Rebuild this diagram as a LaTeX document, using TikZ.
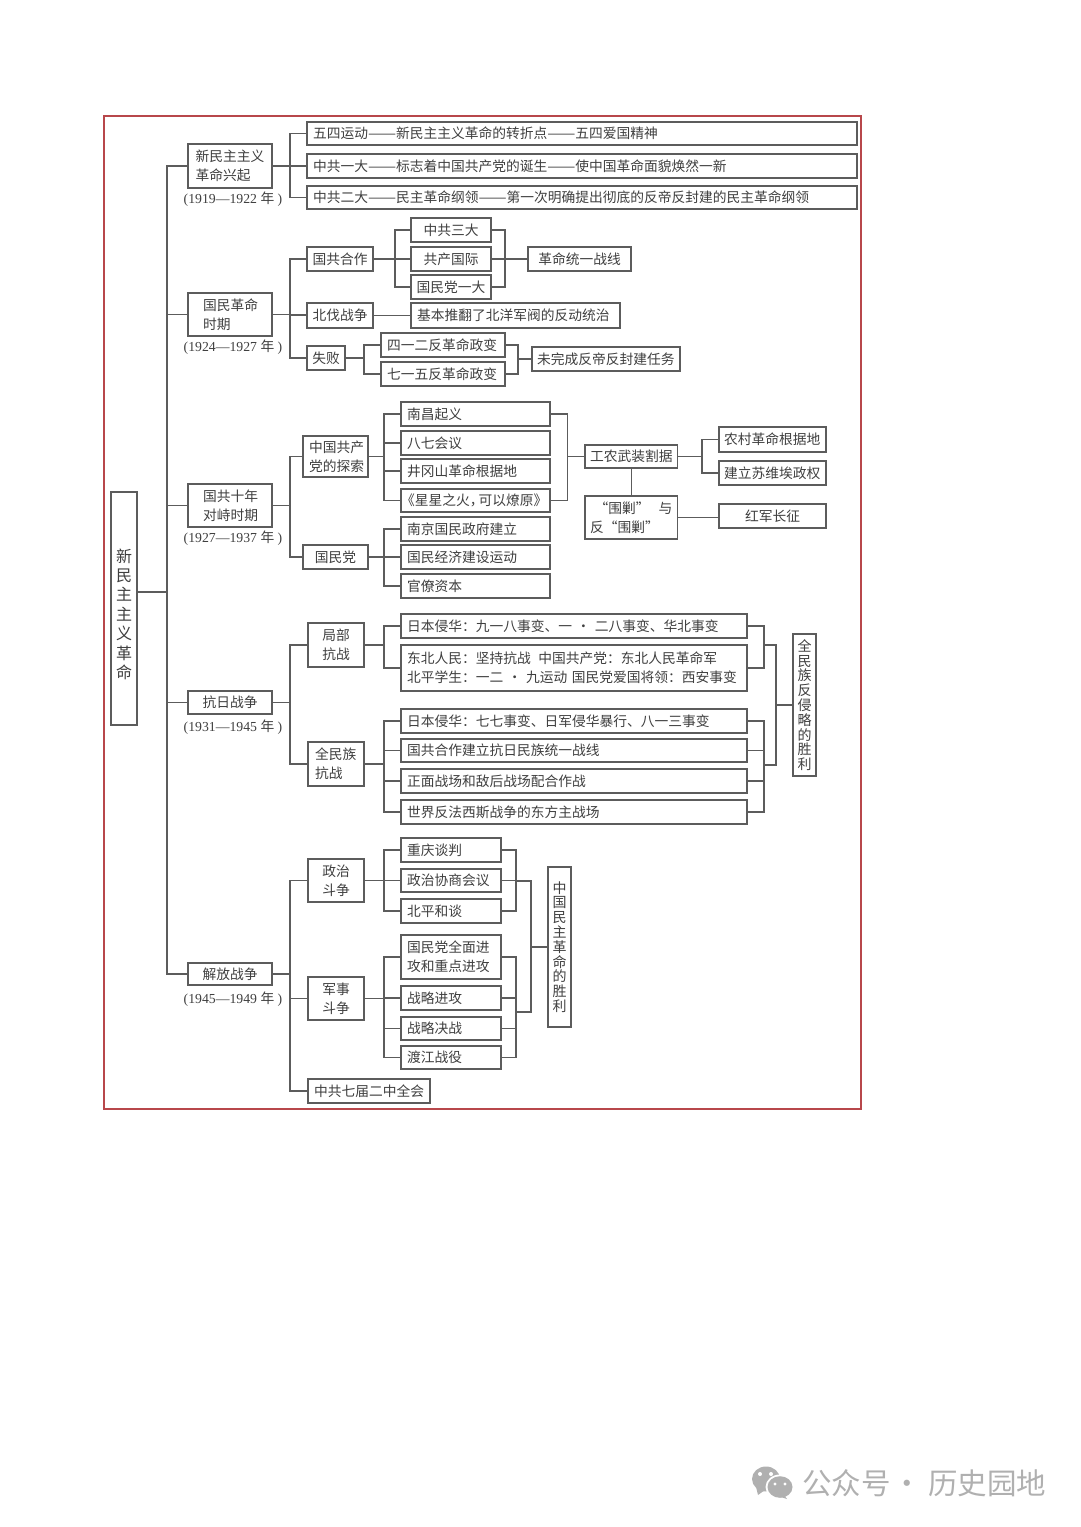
\documentclass[tikz,border=0pt]{standalone}
\usepackage{graphicx}
\usepackage{fontspec}
\setmainfont{Noto Sans CJK SC}
\newfontfamily\ser{Liberation Serif}
\definecolor{ln}{HTML}{5C5C5C}
\definecolor{tx}{HTML}{3F3F3F}
\definecolor{fr}{HTML}{B8474B}
\definecolor{wm}{HTML}{B0B0B0}
\tikzset{
  boxs/.style={draw=ln,line width=1.1pt,fill=white,inner ysep=0pt,outer sep=0pt,text=tx,align=left,
    font=\fontsize{13.75}{19}\selectfont},
  conn/.style={draw=ln,line width=1.1pt,line cap=rect},
  yearlab/.style={text=tx,inner sep=0pt,font=\fontsize{13.75}{16}\selectfont},
  vbox/.style={align=center,font=\fontsize{14}{14.8}\selectfont},
}
\newcommand\dd{\scalebox{1.22}[1]{——}}
% [extra]{name}{x1}{y1}{x2}{y2}{pad}{text}
\newcommand\bx[8][]{%
  \pgfmathsetmacro\mycx{(#3+#5)/2}\pgfmathsetmacro\mycy{(#4+#6)/2}%
  \pgfmathsetmacro\myw{#5-#3}\pgfmathsetmacro\myh{#6-#4}\pgfmathsetmacro\mytw{#5-#3-2*#7}%
  \node[boxs,minimum width=\myw pt,minimum height=\myh pt,inner xsep=#7pt,text width=\mytw pt,#1] (#2) at (\mycx,\mycy) {#8};}
% {bus x}{anchor}{first}{last}{middle nodes}
\newcommand\busline[5]{%
  \coordinate (bb) at (#1,0);
  \draw[conn] (#3.#2) -- (#3.#2 -| bb) -- (#4.#2 -| bb) -- (#4.#2);
  \foreach \c in {#5} {\draw[conn] (\c.#2) -- (\c.#2 -| bb);}}
\newcommand\yr[4]{\node[yearlab] (#1) at (233,#2) {{\ser (#3—#4 }年{\ser\ )}};}
\begin{document}
\begin{tikzpicture}[x=1pt,y=-1pt]
\useasboundingbox (0,0) rectangle (1080,1527);
\node[draw=fr,line width=1.5pt,minimum width=757pt,minimum height=993pt,inner sep=0pt] (frame) at (482.5,612.5) {};

% root
\bx[vbox,font=\fontsize{16}{19.4}\selectfont]{root}{111}{492}{137}{725}{4}{\raisebox{-10pt}[0pt][0pt]{\parbox[c]{18pt}{\centering 新\\民\\主\\主\\义\\革\\命}}}
% level 1
\bx{a1}{188}{144}{272}{188}{7.5}{新民主主义\\革命兴起}
\bx{a2}{188}{293}{272}{336}{15}{国民革命\\时期}
\bx{a3}{188}{484}{272}{527}{15}{国共十年\\对峙时期}
\bx[align=center]{a4}{188}{691}{272}{714}{5}{抗日战争}
\bx[align=center]{a5}{188}{963}{272}{985}{5}{解放战争}
\yr{y1}{199}{1919}{1922}
\yr{y2}{347}{1924}{1927}
\yr{y3}{538}{1927}{1937}
\yr{y4}{727}{1931}{1945}
\yr{y5}{999}{1945}{1949}
\coordinate (rootout) at (137,592);
\coordinate (trunk) at (167,592);
\draw[conn] (rootout) -- (trunk);
\draw[conn] (a1.west) -- (a1.west -| trunk) -- (a5.west -| trunk) -- (a5.west);
\foreach \c in {a2,a3,a4} {\draw[conn] (\c.west) -- (\c.west -| trunk);}

% section 1
\bx{b1}{307}{122}{857}{145}{6}{五四运动\dd 新民主主义革命的转折点\dd 五四爱国精神}
\bx{b2}{307}{154}{857}{178}{6}{中共一大\dd 标志着中国共产党的诞生\dd 使中国革命面貌焕然一新}
\bx{b3}{307}{186}{857}{209}{6}{中共二大\dd 民主革命纲领\dd 第一次明确提出彻底的反帝反封建的民主革命纲领}
\busline{290}{west}{b1}{b3}{b2}
\draw[conn] (a1.east) -- (b2.west);

% section 2
\bx[align=center]{c1}{307}{247}{373}{271}{3}{国共合作}
\bx[align=center]{c2}{307}{303}{373}{328}{3}{北伐战争}
\bx[align=center]{c3}{307}{346}{345}{370}{3}{失败}
\busline{290}{west}{c1}{c3}{c2}
\draw[conn] (a2.east) -- (a2.east -| c2.west);
\bx[align=center]{d1}{411}{218}{491}{242}{5}{中共三大}
\bx[align=center]{d2}{411}{247}{491}{271}{5}{共产国际}
\bx[align=center]{d3}{411}{275}{491}{299}{3}{国民党一大}
\bx[align=center]{d4}{528}{247}{631}{271}{5}{革命统一战线}
\busline{395}{west}{d1}{d3}{d2}
\draw[conn] (c1.east) -- (d2.west);
\busline{505}{east}{d1}{d3}{d2}
\draw[conn] (d2.east) -- (d4.west);
\bx{d5}{411}{303}{620}{328}{6}{基本推翻了北洋军阀的反动统治}
\draw[conn] (c2.east) -- (d5.west);
\bx{d6}{381}{333}{505}{357}{6}{四一二反革命政变}
\bx{d7}{381}{362}{505}{386}{6}{七一五反革命政变}
\busline{364}{west}{d6}{d7}{}
\draw[conn] (c3.east) -- (c3.east -| bb);
\busline{518}{east}{d6}{d7}{}
\bx{d8}{532}{347}{680}{371}{5}{未完成反帝反封建任务}
\draw[conn] (d8.west) -- (d8.west -| bb);

% section 3
\bx{e1}{303}{436}{368}{477}{6}{中国共产\\党的探索}
\bx[align=center]{e2}{303}{545}{368}{569}{3}{国民党}
\busline{290}{west}{e1}{e2}{}
\draw[conn] (a3.east) -- (a3.east -| bb);
\bx{f1}{401}{402}{550}{426}{6}{南昌起义}
\bx{f2}{401}{431}{550}{455}{6}{八七会议}
\bx{f3}{401}{459}{550}{483}{6}{井冈山革命根据地}
\bx{f4}{401}{489}{550}{512}{6}{\kern-6pt《星星之火，\kern-5pt可以燎原》}
\bx{f5}{401}{517}{550}{541}{6}{南京国民政府建立}
\bx{f6}{401}{545}{550}{569}{6}{国民经济建设运动}
\bx{f7}{401}{574}{550}{598}{6}{官僚资本}
\busline{384}{west}{f1}{f4}{f2,f3}
\draw[conn] (e1.east) -- (e1.east -| bb);
\busline{384}{west}{f5}{f7}{f6}
\draw[conn] (e2.east) -- (f6.west);
\bx[align=center]{g1}{585}{445}{677.5}{468}{3}{工农武装割据}
\bx{g2}{585}{496}{677.5}{539}{5}{\ “围剿”\ \ 与\\反“围剿”}
\busline{567.5}{east}{f1}{f4}{}
\draw[conn] (g1.west) -- (g1.west -| bb);
\draw[conn] (g1.south) -- (g2.north);
\bx{h1}{719}{427}{826}{452}{5}{农村革命根据地}
\bx{h2}{719}{461}{826}{485}{5}{建立苏维埃政权}
\bx[align=center]{h3}{719}{504}{826}{528}{5}{红军长征}
\busline{702}{west}{h1}{h2}{}
\draw[conn] (g1.east) -- (g1.east -| bb);
\draw[conn] (g2.east) -- (g2.east -| h3.west);

% section 4
\bx[align=center]{i1}{308}{623}{364}{667}{3}{局部\\抗战}
\bx{i2}{308}{742}{364}{786}{7}{全民族\\抗战}
\busline{290}{west}{i1}{i2}{}
\draw[conn] (a4.east) -- (a4.east -| bb);
\bx{j1}{401}{614}{747}{638}{6}{日本侵华：九一八事变、一 • 二八事变、华北事变}
\bx{j2}{401}{645}{747}{691}{6}{\mbox{东北人民：坚持抗战\ \kern3pt 中国共产党：东北人民革命军}\\\mbox{北平学生：一二 • 九运动\ 国民党爱国将领：西安事变}}
\bx{j3}{401}{709}{747}{733}{6}{日本侵华：七七事变、日军侵华暴行、八一三事变}
\bx{j4}{401}{739}{747}{762}{6}{国共合作建立抗日民族统一战线}
\bx{j5}{401}{769}{747}{793}{6}{正面战场和敌后战场配合作战}
\bx{j6}{401}{800}{747}{824}{6}{世界反法西斯战争的东方主战场}
\busline{384}{west}{j1}{j2}{}
\draw[conn] (i1.east) -- (i1.east -| bb);
\busline{384}{west}{j3}{j6}{j4,j5}
\draw[conn] (i2.east) -- (i2.east -| bb);
\busline{764}{east}{j1}{j2}{}
\busline{764}{east}{j3}{j6}{j4,j5}
\bx[vbox]{k1}{793}{634}{816}{776}{3}{全\\民\\族\\反\\侵\\略\\的\\胜\\利}
\coordinate (r1) at (764,645);
\coordinate (r2) at (764,765);
\coordinate (r3) at (776,705);
\draw[conn] (r1) -- (r1 -| r3) -- (r2 -| r3) -- (r2);
\draw[conn] (k1.west) -- (r3);

% section 5
\bx[align=center]{l1}{308}{859}{364}{902}{3}{政治\\斗争}
\bx[align=center]{l2}{308}{977}{364}{1020}{3}{军事\\斗争}
\bx{l3}{308}{1079}{430}{1103}{6}{中共七届二中全会}
\busline{290}{west}{l1}{l3}{l2}
\draw[conn] (a5.east) -- (a5.east -| bb);
\bx{m1}{401}{838}{501}{862}{6}{重庆谈判}
\bx{m2}{401}{869}{501}{892}{6}{政治协商会议}
\bx{m3}{401}{899}{501}{923}{6}{北平和谈}
\bx{m4}{401}{935}{501}{979}{6}{国民党全面进\\攻和重点进攻}
\bx{m5}{401}{986}{501}{1010}{6}{战略进攻}
\bx{m6}{401}{1017}{501}{1040}{6}{战略决战}
\bx{m7}{401}{1046}{501}{1069}{6}{渡江战役}
\busline{384}{west}{m1}{m3}{m2}
\draw[conn] (l1.east) -- (m2.west);
\busline{384}{west}{m4}{m7}{m5,m6}
\draw[conn] (l2.east) -- (l2.east -| bb);
\busline{516}{east}{m1}{m3}{m2}
\busline{516}{east}{m4}{m7}{m5,m6}
\bx[vbox]{n1}{548}{867}{571}{1027}{3}{中\\国\\民\\主\\革\\命\\的\\胜\\利}
\coordinate (s1) at (516,881);
\coordinate (s2) at (516,1012);
\coordinate (s3) at (531,947);
\draw[conn] (s1) -- (s1 -| s3) -- (s2 -| s3) -- (s2);
\draw[conn] (n1.west) -- (s3);

% watermark
\fill[wm] (766,1479) ellipse (14 and 12.5);
\fill[wm] (756,1487) -- (758,1495) -- (765,1490) -- cycle;
\fill[white] (780,1487) ellipse (14.5 and 12.5);
\fill[wm] (780,1487) ellipse (12.5 and 10.8);
\fill[wm] (784,1495) -- (787,1499) -- (778,1496) -- cycle;
\fill[white] (760,1474) circle (2) (771,1474) circle (2) (775,1484) circle (1.6) (785,1484) circle (1.6);
\node[inner sep=0pt,text=wm,font=\fontsize{29.5}{32}\selectfont,anchor=west] (wmtext) at (802,1483) {公众号\kern1.5pt·\kern6.5pt历史园地};
\end{tikzpicture}
\end{document}
